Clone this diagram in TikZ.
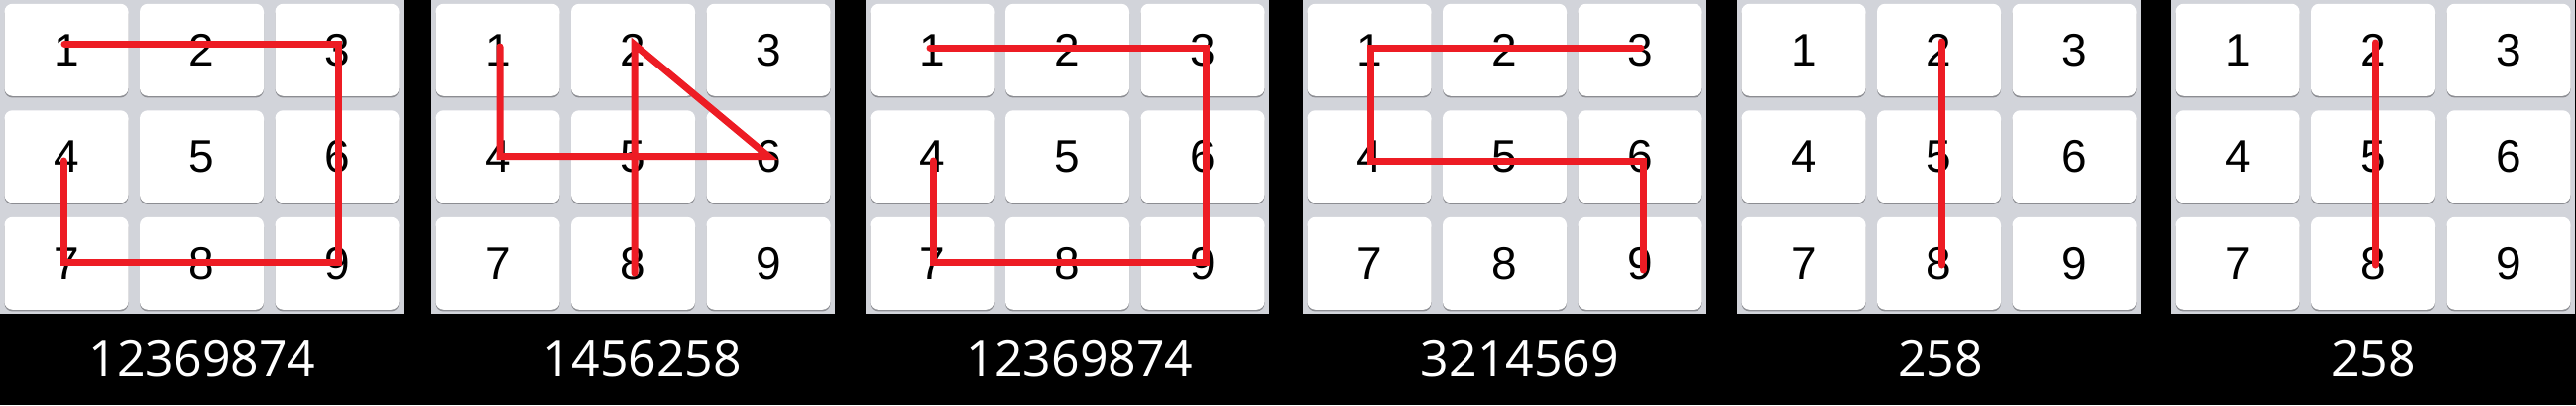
\documentclass[tikz,border=0pt]{standalone}
\usepackage{fontspec}
\setmainfont{Liberation Sans}
\newfontfamily\labelfont{Open Sans}
\definecolor{panelbg}{HTML}{D2D4DA}
\definecolor{keyshadow}{HTML}{8C8D92}
\definecolor{pathred}{HTML}{ED1C24}
\tikzset{
  keybox/.style={fill=white, rounded corners=8pt, minimum width=125pt, minimum height=93pt,
    inner sep=0pt, text=black, font=\fontsize{46}{46}\selectfont},
  keyshade/.style={fill=keyshadow, rounded corners=8pt},
  padbg/.style={fill=panelbg},
  redline/.style={draw=pathred, line width=7pt, line cap=round, line join=miter},
  codelabel/.style={text=white, inner sep=0pt, font=\labelfont\fontsize{50}{50}\selectfont}
}
\begin{document}
\begin{tikzpicture}[x=1pt,y=-1pt]
\fill[black] (0,0) rectangle (2598,408);
\useasboundingbox (0,0) rectangle (2598,408);
\foreach \p/\L in {0/0,1/435,2/873,3/1314,4/1752,5/2190}{
  \fill[padbg] (\L,0) rectangle (\L+407,316);
  \foreach \n in {1,...,9}{
    \pgfmathsetmacro\cx{\L+67+136.5*mod(\n-1,3)}
    \pgfmathsetmacro\cy{50.25+107.5*int((\n-1)/3)}
    \fill[keyshade] (\cx-62.5,\cy-44) rectangle (\cx+62.5,\cy+48.2);
    \node[keybox] (k\p-\n) at (\cx,\cy) {\n};
  }
}
% panel 1: 12369874
\coordinate (a1) at (65,44);
\coordinate (a3) at (341,44);
\coordinate (a9) at (341,264);
\coordinate (a7) at (64,264);
\coordinate (a4) at (64,162);
\draw[redline] (a1) -- (a3) -- (a9) -- (a7) -- (a4);
% panel 2: 1456258
\coordinate (b1) at (504,47);
\coordinate (b4) at (504,157.5);
\coordinate (b6) at (775,157.5);
\coordinate (b2) at (640,45);
\coordinate (b8) at (640,275);
\draw[redline] (b1) -- (b4) -- (b6) -- (b2) -- (b8);
% panel 3: 12369874
\coordinate (c1) at (938,48);
\coordinate (c3) at (1216,48);
\coordinate (c9) at (1216,264);
\coordinate (c7) at (941,264);
\coordinate (c4) at (941,162);
\draw[redline] (c1) -- (c3) -- (c9) -- (c7) -- (c4);
% panel 4: 3214569
\coordinate (d3) at (1655,48);
\coordinate (d1) at (1382,48);
\coordinate (d4) at (1382,162);
\coordinate (d6) at (1657,162);
\coordinate (d9) at (1657,272);
\draw[redline] (d3) -- (d1) -- (d4) -- (d6) -- (d9);
% panel 5: 258
\coordinate (e2) at (1958,42);
\coordinate (e8) at (1958,267);
\draw[redline] (e2) -- (e8);
% panel 6: 258
\coordinate (f2) at (2395,43);
\coordinate (f8) at (2395,267);
\draw[redline] (f2) -- (f8);
% labels
\node[codelabel] (l0) at (204,361.5) {12369874};
\node[codelabel] (l1) at (648,361.5) {1456258};
\node[codelabel] (l2) at (1089,361.5) {12369874};
\node[codelabel] (l3) at (1533,361.5) {3214569};
\node[codelabel] (l4) at (1957,361.5) {258};
\node[codelabel] (l5) at (2394,361.5) {258};
\end{tikzpicture}
\end{document}
